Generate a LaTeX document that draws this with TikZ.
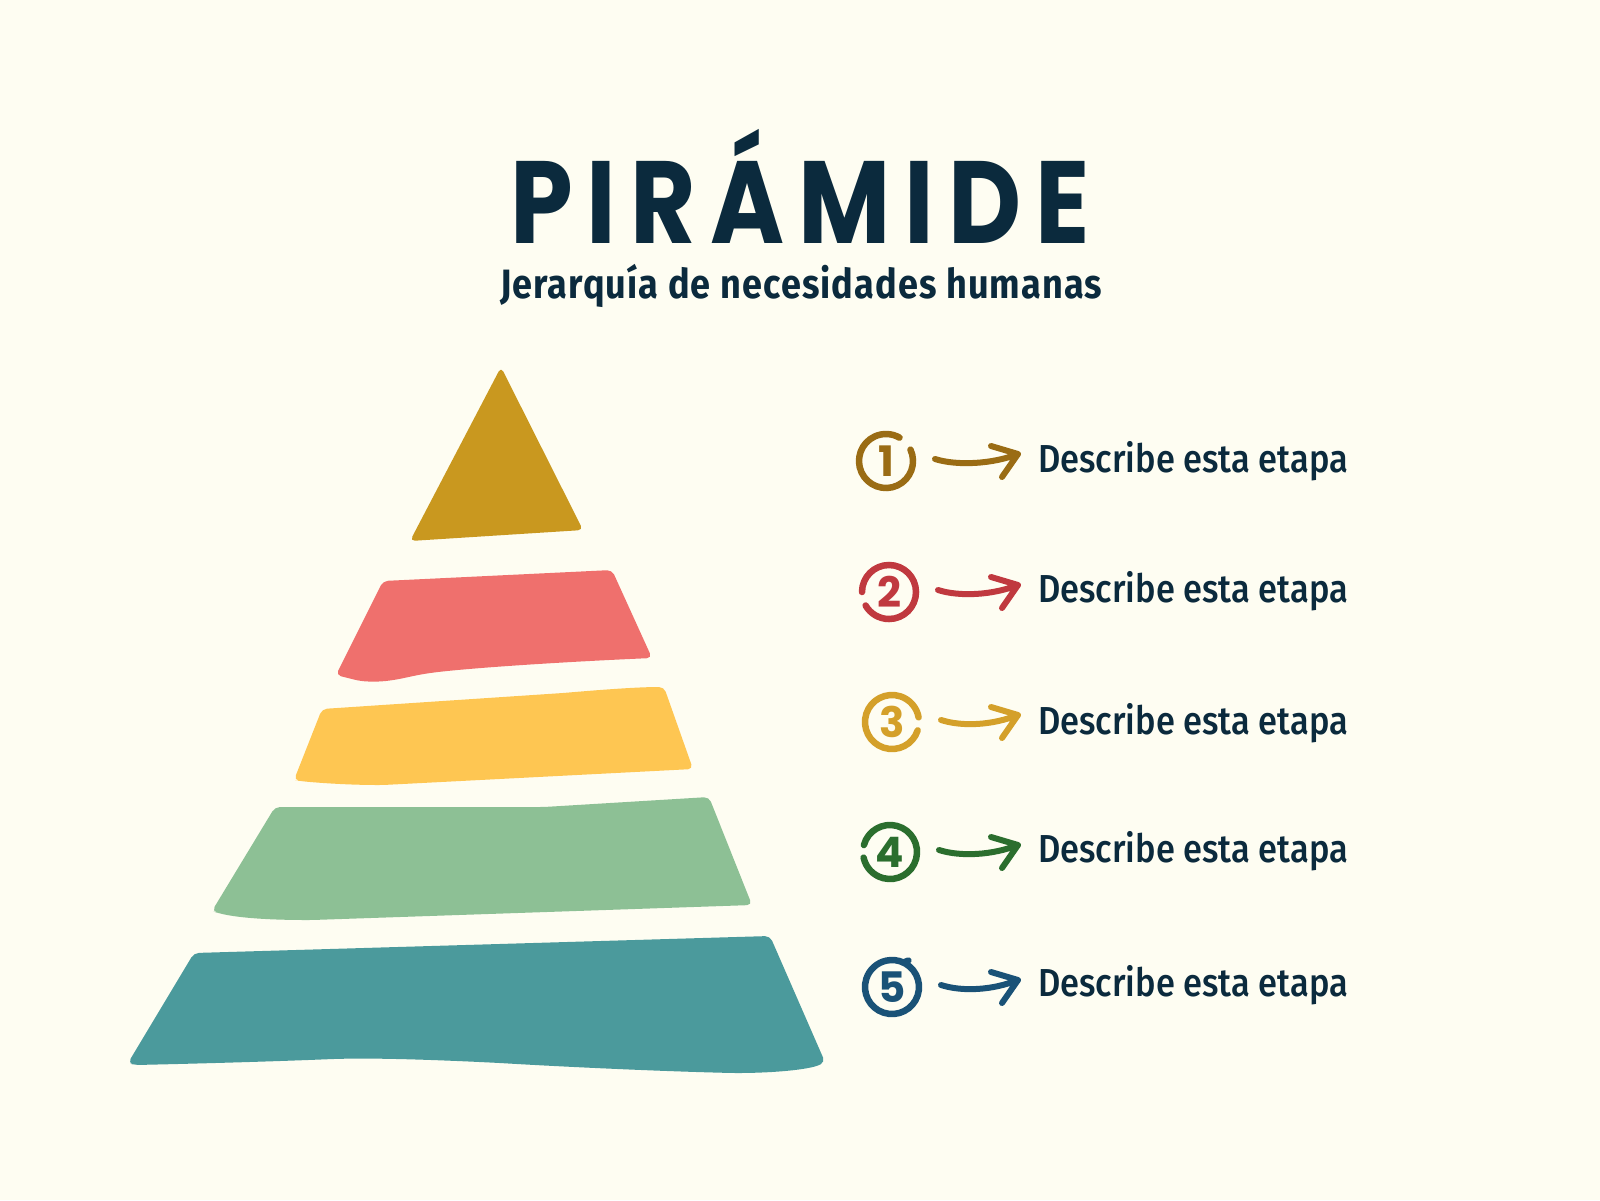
\documentclass[tikz,border=0pt]{standalone}
\usepackage{fontspec}
\usepackage{graphicx}
\newfontfamily\titlefont{Poppins}[LetterSpace=14]
\newfontfamily\subfont{Fira Sans}[LetterSpace=3]
\newfontfamily\labelfont{Fira Sans Medium}
\newfontfamily\digitfont{Poppins}
\definecolor{bgc}{HTML}{FEFDF2}
\definecolor{navy}{HTML}{0B2A3D}
\definecolor{cone}{HTML}{9A6C14}
\definecolor{ctwo}{HTML}{C0393F}
\definecolor{cthree}{HTML}{D4A02A}
\definecolor{cfour}{HTML}{2B6E2E}
\definecolor{cfive}{HTML}{1A5277}
\definecolor{btri}{HTML}{C9981F}
\definecolor{bpink}{HTML}{EF706D}
\definecolor{byellow}{HTML}{FEC652}
\definecolor{bgreen}{HTML}{8DC095}
\definecolor{bteal}{HTML}{4B9A9C}
\newcommand\fitwidth[2]{\setbox0=\hbox{#2}\pgfmathsetmacro\fitratio{#1/\wd0}\scalebox{\fitratio}[1]{\box0}}
\begin{document}
\begin{tikzpicture}[x=1pt,y=-1pt,
  band/.style={fill=#1, rounded corners=5pt},
  ring/.style={draw=#1, line width=6.5pt, line cap=round},
  arr/.style={draw=#1, line width=6pt, line cap=round, line join=round},
  lbl/.style={anchor=base west, inner sep=0pt, text=navy},
  num/.style={text=#1, inner sep=0pt, anchor=center, font=\digitfont\bfseries\fontsize{42pt}{42pt}\selectfont}]
\fill[bgc] (0,0) rectangle (1600,1200);
\useasboundingbox (0,0) rectangle (1600,1200);

% title
\node[anchor=base, inner sep=0pt, text=navy] (title) at (800,243)
  {\fitwidth{580pt}{\titlefont\bfseries\fontsize{117pt}{117pt}\selectfont PIRÁMIDE}};
\node[anchor=base, inner sep=0pt, text=navy] (subtitle) at (801,298)
  {\fitwidth{602pt}{\subfont\bfseries\fontsize{41pt}{41pt}\selectfont Jerarquía de necesidades humanas}};

% pyramid bands
\fill[band=btri] (501,367) -- (583,530) -- (410,541) -- cycle;
\fill[band=bpink] (336,675) -- (383,581) -- (612,570) -- (652,658)
  .. controls (560,662) and (470,668) .. (430,673)
  .. controls (405,677) and (390,683) .. (360,681) -- cycle;
\fill[band=byellow] (294,780) -- (322,709) -- (563,693)
  .. controls (610,689) and (640,687) .. (664,687) -- (693,769) -- (383,785)
  .. controls (350,785) and (320,783) .. (300,781) -- cycle;
\fill[band=bgreen] (212,911) -- (275,807) -- (544,807) -- (709,797) -- (752,905)
  -- (312,920) .. controls (270,920) and (240,918) .. (218,913) -- cycle;
\fill[band=bteal] (128,1063) -- (194,953) -- (770,936) -- (825,1062)
  .. controls (810,1070) and (770,1073) .. (733,1073)
  .. controls (650,1071) and (550,1066) .. (500,1063)
  .. controls (420,1059) and (370,1058) .. (333,1059)
  .. controls (260,1062) and (180,1064) .. (135,1065) -- cycle;

% numbered circles
\node[num=cone]   (c1) at (886,461) {1};
\node[num=ctwo]   (c2) at (889,592) {2};
\node[num=cthree] (c3) at (892,722) {3};
\node[num=cfour]  (c4) at (890,852) {4};
\node[num=cfive]  (c5) at (892,987) {5};

\draw[ring=cone]   (c1.center) ++(-25:27) arc[start angle=-25, end angle=300, radius=27];
\draw[ring=ctwo]   (c2.center) ++(180:27) arc[start angle=180, end angle=510, radius=27];
\draw[ring=cthree] (c3.center) ++(18:27) arc[start angle=18, end angle=350, radius=27];
\draw[ring=cfour]  (c4.center) ++(195:27) arc[start angle=195, end angle=528, radius=27];
\draw[ring=cfive]  (c5.center) ++(-72:27) arc[start angle=-72, end angle=295, radius=27]
  -- ++(5,-2);

% labels
\foreach \i/\y in {1/472,2/602,3/734,4/862,5/996}{
  \node[lbl] (t\i) at (1038,\y)
    {\fitwidth{310pt}{\labelfont\fontsize{39pt}{39pt}\selectfont Describe esta etapa}};
}

% arrows
\foreach \i/\col in {1/cone,2/ctwo,3/cthree,4/cfour,5/cfive}{
  \coordinate (s\i) at ([xshift=49pt,yshift=2pt]c\i.center);
  \coordinate (e\i) at ([xshift=-20pt,yshift=7pt]t\i.base west |- c\i.center);
  \draw[arr=\col] (s\i) .. controls +(22,7) and +(-25,10) .. (e\i)
     ++(-27,-8) -- (e\i) -- ++(-16,23);
}
\end{tikzpicture}
\end{document}
